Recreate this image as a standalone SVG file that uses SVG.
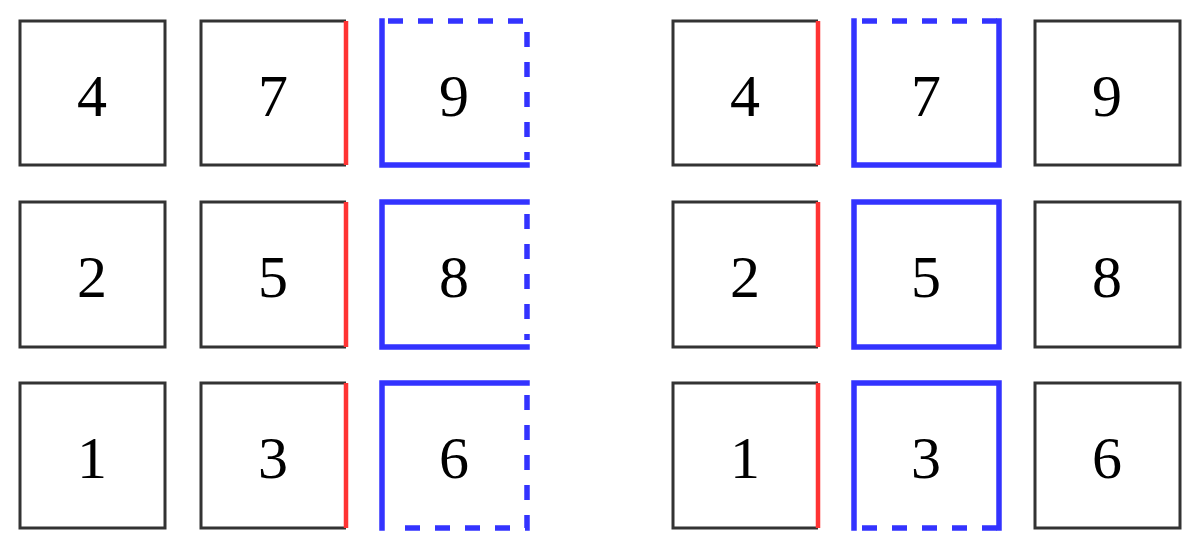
<svg xmlns="http://www.w3.org/2000/svg" width="1200" height="550" viewBox="0 0 1200 550">
<style>
.b{fill:none;stroke:#333;stroke-width:3}
.r{stroke:#ff3333;stroke-width:4.5;fill:none}
.s{stroke:#3333ff;stroke-width:5.5;fill:none;stroke-linecap:square}
.d{stroke:#3333ff;stroke-width:5.5;fill:none;stroke-dasharray:15,15}
text{font-family:"Liberation Serif",serif;font-size:60px;text-anchor:middle;fill:#000}
</style>
<rect width="1200" height="550" fill="#fff"/>
<g id="L4"><rect class="b" x="20" y="21" width="145" height="144"/><text x="92" y="116">4</text></g>
<g id="L7"><path class="b" d="M346 21H201V165H346"/><line class="r" x1="346" y1="21" x2="346" y2="165"/><text x="273" y="116">7</text></g>
<g id="L9"><path class="s" d="M382 21V165H527"/><path class="d" d="M388 21H527V160"/><text x="454" y="116">9</text></g>
<g id="L2"><rect class="b" x="20" y="202" width="145" height="145"/><text x="92" y="297">2</text></g>
<g id="L5"><path class="b" d="M346 202H201V347H346"/><line class="r" x1="346" y1="202" x2="346" y2="347"/><text x="273" y="297">5</text></g>
<g id="L8"><path class="s" d="M527 202H382V347H527"/><path class="d" d="M527 214V340"/><text x="454" y="297">8</text></g>
<g id="L1"><rect class="b" x="20" y="383" width="145" height="145"/><text x="92" y="478">1</text></g>
<g id="L3"><path class="b" d="M346 383H201V528H346"/><line class="r" x1="346" y1="383" x2="346" y2="528"/><text x="273" y="478">3</text></g>
<g id="L6"><path class="s" d="M527 383H382V528"/><path class="d" d="M527 395V528H392"/><text x="454" y="478">6</text></g>
<g id="R4"><path class="b" d="M818 21H673V165H818"/><line class="r" x1="818" y1="21" x2="818" y2="165"/><text x="745" y="116">4</text></g>
<g id="R7"><path class="s" d="M854 21V165H999V21"/><path class="d" d="M862 21H999"/><text x="926" y="116">7</text></g>
<g id="R9"><rect class="b" x="1035" y="21" width="145" height="144"/><text x="1107" y="116">9</text></g>
<g id="R2"><path class="b" d="M818 202H673V347H818"/><line class="r" x1="818" y1="202" x2="818" y2="347"/><text x="745" y="297">2</text></g>
<g id="R5"><rect class="s" x="854" y="202" width="145" height="145"/><text x="926" y="297">5</text></g>
<g id="R8"><rect class="b" x="1035" y="202" width="145" height="145"/><text x="1107" y="297">8</text></g>
<g id="R1"><path class="b" d="M818 383H673V528H818"/><line class="r" x1="818" y1="383" x2="818" y2="528"/><text x="745" y="478">1</text></g>
<g id="R3"><path class="s" d="M854 528V383H999V528"/><path class="d" d="M862 528H999"/><text x="926" y="478">3</text></g>
<g id="R6"><rect class="b" x="1035" y="383" width="145" height="145"/><text x="1107" y="478">6</text></g>
<g id="connectors"></g>
</svg>
